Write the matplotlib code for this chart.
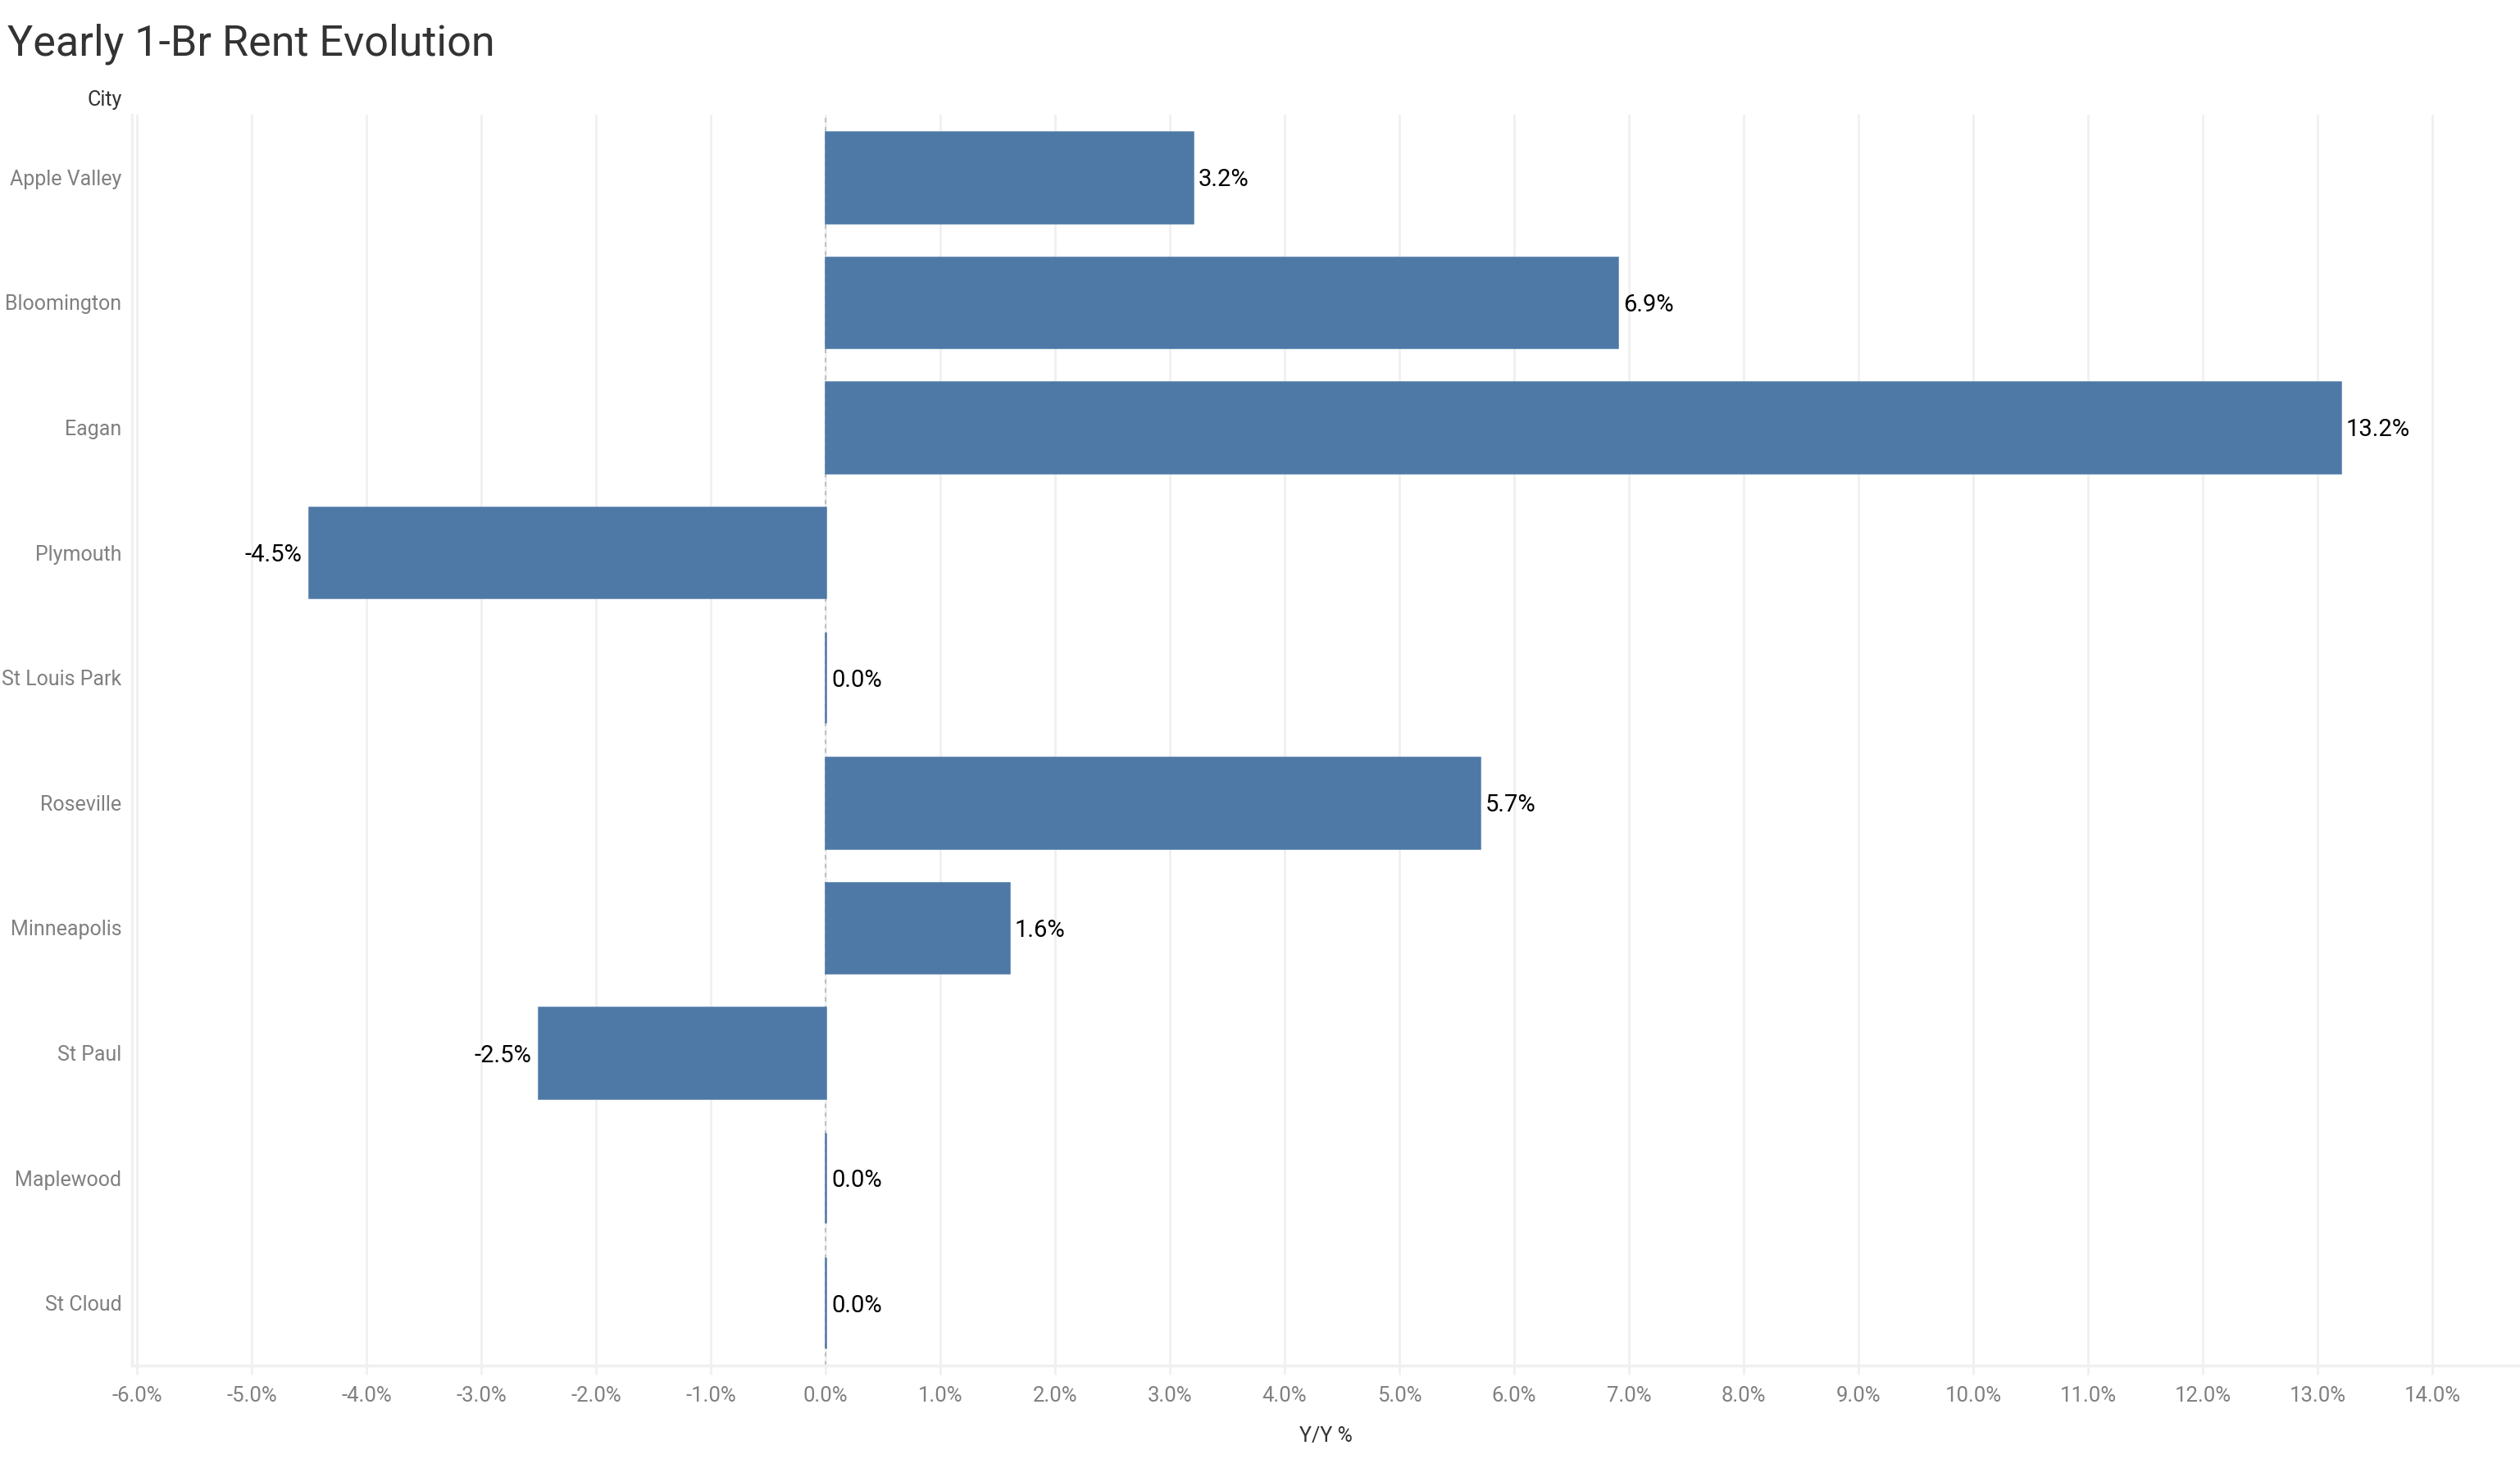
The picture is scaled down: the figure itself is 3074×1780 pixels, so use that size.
import matplotlib
matplotlib.use("Agg")
import matplotlib.pyplot as plt
from matplotlib.ticker import FuncFormatter, MultipleLocator

plt.rcParams["font.family"] = ["Roboto", "DejaVu Sans"]

# data
cities = ["Apple Valley", "Bloomington", "Eagan", "Plymouth", "St Louis Park",
          "Roseville", "Minneapolis", "St Paul", "Maplewood", "St Cloud"]
yoy_pct = [3.2, 6.9, 13.2, -4.5, 0.0, 5.7, 1.6, -2.5, 0.0, 0.0]

BAR_COLOR = "#4E79A7"
GRID_COLOR = "#F0F0F0"

fig = plt.figure(figsize=(30.74, 17.80), dpi=100)
# plot area: left 161px, top 140px, bottom 1666px
ax = fig.add_axes([161 / 3074, 1 - 1666 / 1780, 1 - 161 / 3074, (1666 - 140) / 1780])

ypos = list(range(len(cities)))
# the edge keeps zero values visible as a thin line, like the original
ax.barh(ypos, yoy_pct, height=0.725, color=BAR_COLOR,
        edgecolor=BAR_COLOR, linewidth=1.8, zorder=3)

# value labels
for y, v in zip(ypos, yoy_pct):
    if v < 0:
        ax.annotate(f"{v:.1f}%", (v, y), xytext=(-6, 0), textcoords="offset points",
                    ha="right", va="center_baseline", fontsize=21, color="black", zorder=4)
    else:
        ax.annotate(f"{v:.1f}%", (v, y), xytext=(5, 0), textcoords="offset points",
                    ha="left", va="center_baseline", fontsize=21, color="black", zorder=4)

ax.set_xlim(-6.043, 14.764)
ax.set_ylim(len(cities) - 0.5, -0.5)

ax.xaxis.set_major_locator(MultipleLocator(1.0))
ax.xaxis.set_major_formatter(FuncFormatter(lambda x, _: f"{x:.1f}%"))
ax.set_yticks(ypos)
ax.set_yticklabels(cities)

ax.grid(axis="x", color=GRID_COLOR, linewidth=2, zorder=0)
ax.axvline(0, color="#BBBBBB", linewidth=1.3, linestyle=(0, (3, 3)), zorder=2)

for side in ["top", "right"]:
    ax.spines[side].set_visible(False)
for side in ["left", "bottom"]:
    ax.spines[side].set_color(GRID_COLOR)
    ax.spines[side].set_linewidth(2.5)

ax.tick_params(axis="x", colors=GRID_COLOR, labelcolor="#808080", labelsize=18.5,
               length=8, width=2, pad=10)
ax.tick_params(axis="y", length=0, labelcolor="#808080", labelsize=18, pad=9)

ax.set_xlabel("Y/Y %", fontsize=18, color="#333333", labelpad=18)

fig.text(0.0485, 1 - 122 / 1780, "City", ha="right", va="center",
         fontsize=18, color="#333333")
fig.text(0.003, 1 - 54 / 1780, "Yearly 1-Br Rent Evolution", ha="left", va="center",
         fontsize=37.5, color="#333333")

fig.savefig("out.png", dpi=100)
